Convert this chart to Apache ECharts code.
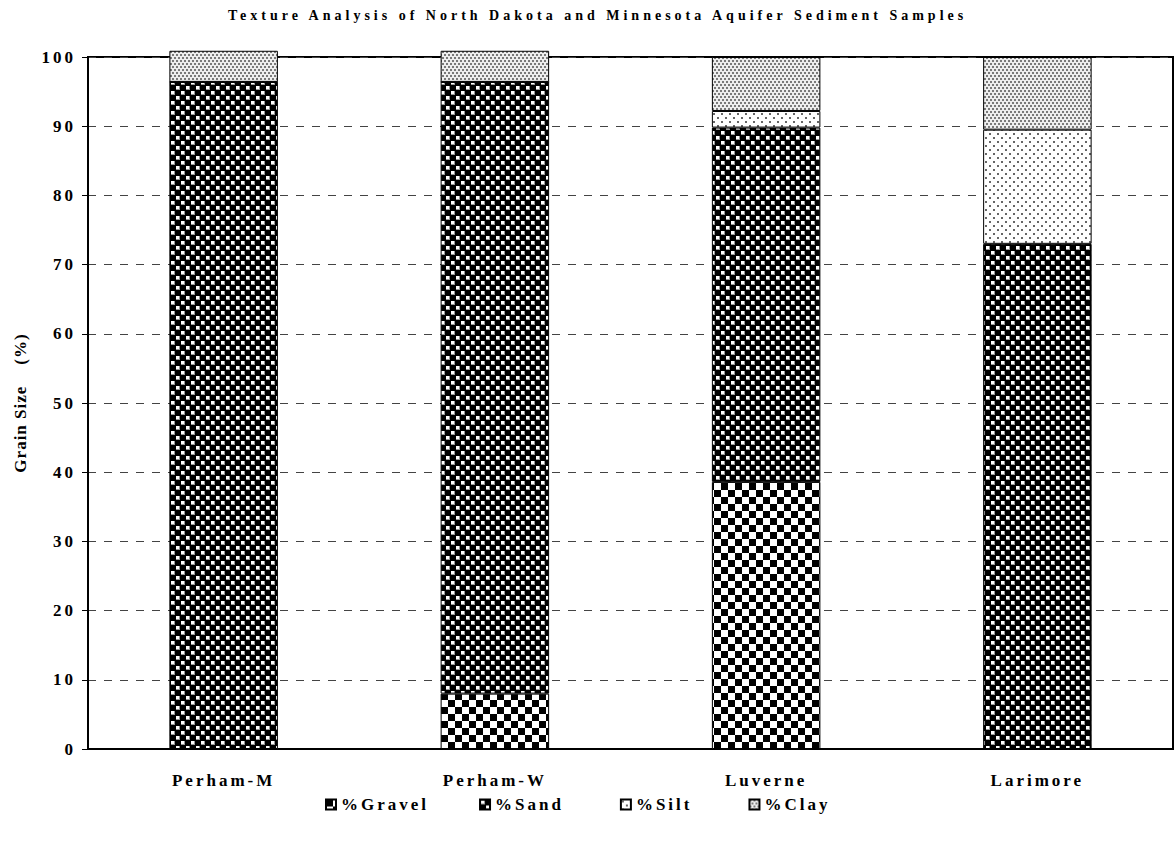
<!DOCTYPE html>
<html>
<head>
<meta charset="utf-8">
<title>Texture Analysis</title>
<script src="https://cdn.jsdelivr.net/npm/echarts@6.0.0/dist/echarts.min.js"></script>
<style>
  html, body { margin: 0; padding: 0; background: #fff; }
  #chart { width: 1176px; height: 846px; }
  /* wide-tracked lettering used throughout the chart */
  #chart svg text { letter-spacing: 3px; }
</style>
</head>
<body>
<div id="chart"></div>
<script>
// Grain-size fractions (%) for each aquifer sample
const categories = ['Perham-M', 'Perham-W', 'Luverne', 'Larimore'];
const gravel = [0, 8.0, 38.6, 0];
const sand   = [96.4, 88.4, 51.2, 73.0];
const silt   = [0, 0, 2.4, 16.5];
const clay   = [4.5, 4.5, 7.8, 10.5];
const seriesNames = ['%Gravel', '%Sand', '%Silt', '%Clay'];
const yTicks = [0, 10, 20, 30, 40, 50, 60, 70, 80, 90, 100];
const titleText = 'Texture Analysis of North Dakota and Minnesota Aquifer Sediment Samples';
const yName = 'Grain Size    (%)';

// Hatch fills, one small tile per texture class
function tile(w, h, draw) {
  const c = document.createElement('canvas');
  c.width = w; c.height = h;
  const ctx = c.getContext('2d');
  draw(ctx);
  return { image: c, repeat: 'repeat' };
}
const gravelFill = tile(14, 14, ctx => {
  ctx.fillStyle = '#fff'; ctx.fillRect(0, 0, 14, 14);
  ctx.fillStyle = '#000';
  ctx.fillRect(0, 0, 7, 7); ctx.fillRect(7, 7, 7, 7);
});
const sandFill = tile(10, 10, ctx => {
  ctx.fillStyle = '#000'; ctx.fillRect(0, 0, 10, 10);
  ctx.fillStyle = '#999';
  ctx.fillRect(1, 1, 4, 4); ctx.fillRect(6, 6, 4, 4);
  ctx.fillStyle = '#fff';
  ctx.fillRect(1, 1, 3, 3); ctx.fillRect(6, 6, 3, 3);
});
const siltFill = tile(8, 8, ctx => {
  ctx.fillStyle = '#fff'; ctx.fillRect(0, 0, 8, 8);
  ctx.fillStyle = '#666';
  ctx.fillRect(1, 1, 2, 2); ctx.fillRect(5, 5, 2, 2);
});
const clayFill = tile(4, 6, ctx => {
  ctx.fillStyle = '#eeeeee'; ctx.fillRect(0, 0, 4, 6);
  ctx.fillStyle = '#7a7a7a';
  ctx.fillRect(0, 0, 2, 2); ctx.fillRect(2, 3, 2, 2);
});
const fills = [gravelFill, sandFill, siltFill, clayFill];
const values = [gravel, sand, silt, clay];

const FONT = "'Liberation Serif', 'Times New Roman', serif";

const chart = echarts.init(document.getElementById('chart'), null, { renderer: 'svg' });

// the title is tracked wider, the axis name tighter, than the other lettering
function trackText() {
  document.querySelectorAll('#chart svg text').forEach(t => {
    if (t.textContent === titleText) t.style.letterSpacing = '4px';
    else if (t.textContent === yName) t.style.letterSpacing = '1px';
  });
}
chart.on('finished', trackText);

chart.setOption({
  animation: false,
  backgroundColor: '#fff',
  title: {
    text: titleText,
    left: 223,
    top: 3,
    textStyle: { fontFamily: FONT, fontWeight: 'bold', fontSize: 14, color: '#000' }
  },
  grid: {
    left: 88, right: 3, top: 57, bottom: 97,
    show: true, borderColor: '#000', borderWidth: 2, backgroundColor: 'transparent'
  },
  legend: {
    data: seriesNames,
    bottom: 28,
    left: 320,
    itemWidth: 10,
    itemHeight: 10,
    itemGap: 71,
    icon: 'rect',
    textStyle: { fontFamily: FONT, fontWeight: 'bold', fontSize: 17, color: '#000' }
  },
  xAxis: {
    type: 'category',
    data: categories,
    axisLine: { lineStyle: { color: '#000', width: 2 } },
    axisTick: { show: false },
    axisLabel: { margin: 23, fontFamily: FONT, fontWeight: 'bold', fontSize: 17, color: '#000' }
  },
  yAxis: {
    type: 'value',
    min: yTicks[0],
    max: yTicks[yTicks.length - 1],
    interval: 10,
    name: yName,
    nameLocation: 'middle',
    nameGap: 59,
    nameTextStyle: { fontFamily: FONT, fontWeight: 'bold', fontSize: 17, color: '#000' },
    axisLine: { show: true, lineStyle: { color: '#000', width: 2 } },
    axisTick: { show: true, length: 6, lineStyle: { color: '#000', width: 1 } },
    axisLabel: { margin: 12, fontFamily: FONT, fontWeight: 'bold', fontSize: 17, color: '#000' },
    splitLine: { show: true, lineStyle: { color: '#444', width: 1, type: [8, 8] } }
  },
  series: seriesNames.map((name, i) => ({
    name: name,
    type: 'bar',
    stack: 'grain',
    barWidth: '40%',
    clip: false,
    data: values[i],
    itemStyle: { color: fills[i], borderColor: '#000', borderWidth: 1 },
    emphasis: { disabled: true }
  }))
});
setTimeout(trackText, 50);
</script>
</body>
</html>
